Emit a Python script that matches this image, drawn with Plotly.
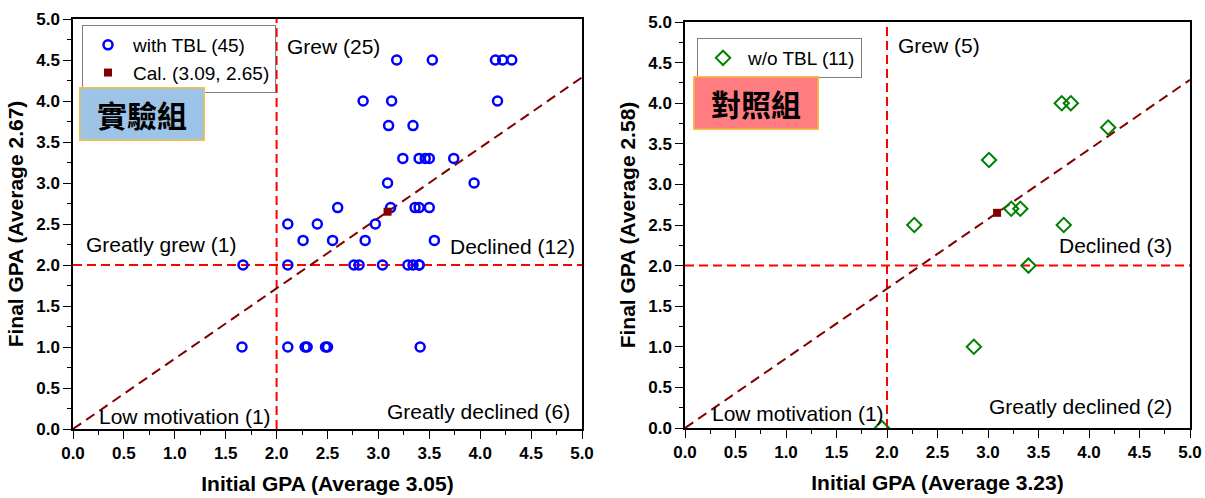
import plotly.graph_objects as go

# ---------------- data ----------------
exp_initial = [3.18, 3.53, 4.15, 4.22, 4.31,
               2.85, 3.13, 4.17,
               3.10, 3.34,
               3.24, 3.40, 3.46, 3.50, 3.74,
               3.09, 3.94,
               2.60, 3.12, 3.36, 3.40, 3.50,
               2.11, 2.40, 2.97,
               2.26, 2.55, 2.87, 3.55,
               1.67, 2.11, 2.76, 2.81, 3.04, 3.29, 3.34, 3.40, 3.40,
               1.66, 2.11, 2.28, 2.30, 2.48, 2.50, 3.41]
exp_final = [4.5, 4.5, 4.5, 4.5, 4.5,
             4.0, 4.0, 4.0,
             3.7, 3.7,
             3.3, 3.3, 3.3, 3.3, 3.3,
             3.0, 3.0,
             2.7, 2.7, 2.7, 2.7, 2.7,
             2.5, 2.5, 2.5,
             2.3, 2.3, 2.3, 2.3,
             2.0, 2.0, 2.0, 2.0, 2.0, 2.0, 2.0, 2.0, 2.0,
             1.0, 1.0, 1.0, 1.0, 1.0, 1.0, 1.0]

ctl_initial = [2.27, 3.01, 3.23, 3.32, 3.73, 3.82, 4.19, 3.75, 3.40, 2.86, 1.95]
ctl_final = [2.5, 3.3, 2.7, 2.7, 4.0, 4.0, 3.7, 2.5, 2.0, 1.0, 0.0]

cal_point = (3.09, 2.65)
threshold = 2.0
axis_range = [0, 5]

exp_label = "with TBL (45)"
cal_label = "Cal. (3.09, 2.65)"
ctl_label = "w/o TBL (11)"

left_quadrants = ["Grew (25)", "Greatly grew (1)", "Declined (12)",
                  "Low motivation (1)", "Greatly declined (6)"]
right_quadrants = ["Grew (5)", "Declined (3)", "Low motivation (1)",
                   "Greatly declined (2)"]

# ---------------- layout helpers ----------------
W, H = 1205, 498
FONT = "Liberation Sans, Arial, sans-serif"


def px(x):
    return x / W


def py(y):
    return 1 - y / H


slope = cal_point[1] / cal_point[0]
diag_x = [axis_range[0], axis_range[1]]
diag_y = [v * slope for v in diag_x]

fig = go.Figure()


def add_panel(xa, ya, xs, ys, marker, name, legend, cal_legend):
    fig.add_trace(go.Scatter(x=[threshold, threshold], y=axis_range, mode="lines",
                             line=dict(color="#FF0000", width=2, dash="9px,5px"),
                             xaxis=xa, yaxis=ya, showlegend=False, hoverinfo="skip"))
    fig.add_trace(go.Scatter(x=axis_range, y=[threshold, threshold], mode="lines",
                             line=dict(color="#FF0000", width=2, dash="9px,5px"),
                             xaxis=xa, yaxis=ya, showlegend=False, hoverinfo="skip"))
    fig.add_trace(go.Scatter(x=diag_x, y=diag_y, mode="lines",
                             line=dict(color="#800000", width=2, dash="10px,6px"),
                             xaxis=xa, yaxis=ya, showlegend=False, hoverinfo="skip"))
    fig.add_trace(go.Scatter(x=xs, y=ys, mode="markers", name=name, marker=marker,
                             xaxis=xa, yaxis=ya, legend=legend))
    fig.add_trace(go.Scatter(x=[cal_point[0]], y=[cal_point[1]], mode="markers",
                             name=cal_label,
                             marker=dict(symbol="square", size=8, color="#800000"),
                             xaxis=xa, yaxis=ya, legend=legend, showlegend=cal_legend))


add_panel("x", "y", exp_initial, exp_final,
          dict(symbol="circle-open", size=9, color="#0000FF", line=dict(width=2.5)),
          exp_label, "legend", True)
add_panel("x2", "y2", ctl_initial, ctl_final,
          dict(symbol="diamond-open", size=11, color="#008000", line=dict(width=2)),
          ctl_label, "legend2", False)

tickfont = dict(family=FONT, size=17, color="black", weight="bold")
titlefont = dict(family=FONT, size=21, color="black", weight="bold")


def main_axis(domain, anchor, title, standoff):
    return dict(domain=domain, anchor=anchor, range=axis_range, dtick=0.5, tick0=0,
                tickformat=".1f", ticks="outside", ticklen=8, tickwidth=1.3,
                tickcolor="black", showline=True, linecolor="black", linewidth=1.5,
                mirror=True, showgrid=False, zeroline=False, tickfont=tickfont,
                automargin=False,
                title=dict(text=title, font=titlefont, standoff=standoff),
                minor=dict(dtick=0.25, ticks="outside", ticklen=4, tickwidth=1.3,
                           tickcolor="black", showgrid=False))


def mirror_axis(overlay, anchor, side):
    return dict(overlaying=overlay, anchor=anchor, side=side, range=axis_range,
                dtick=0.5, tick0=0, ticks="inside", ticklen=8, tickwidth=1.3,
                tickcolor="black", showticklabels=False, showline=False,
                showgrid=False, zeroline=False, automargin=False,
                minor=dict(dtick=0.25, ticks="inside", ticklen=4, tickwidth=1.3,
                           tickcolor="black", showgrid=False))


fig.update_layout(
    width=W, height=H,
    margin=dict(l=0, r=0, t=0, b=0, autoexpand=False),
    paper_bgcolor="white", plot_bgcolor="white",
    xaxis=main_axis([px(73), px(582)], "y", "Initial GPA (Average 3.05)", 14),
    yaxis=main_axis([py(429), py(19)], "x", "Final GPA (Average 2.67)", 7),
    xaxis2=main_axis([px(685), px(1190)], "y2", "Initial GPA (Average 3.23)", 14),
    yaxis2=main_axis([py(428), py(22)], "x2", "Final GPA (Average 2.58)", 7),
    xaxis3=mirror_axis("x", "y", "top"),
    yaxis3=mirror_axis("y", "x", "right"),
    xaxis4=mirror_axis("x2", "y2", "top"),
    yaxis4=mirror_axis("y2", "x2", "right"),
    legend=dict(x=px(82), y=py(25), xanchor="left", yanchor="top",
                bordercolor="#7f7f7f", borderwidth=1, bgcolor="white",
                font=dict(family=FONT, size=19, color="black"),
                tracegroupgap=0, itemwidth=40),
    legend2=dict(x=px(697), y=py(38), xanchor="left", yanchor="top",
                 bordercolor="#7f7f7f", borderwidth=1, bgcolor="white",
                 font=dict(family=FONT, size=19, color="black"),
                 itemwidth=40),
    showlegend=True,
)

for text, cx, cy, color in [("實驗組", 141.7, 113.8, "#9DC3E6"),
                            ("對照組", 756, 103, "#FF7C80")]:
    fig.add_annotation(text=text, xref="paper", yref="paper", x=px(cx), y=py(cy),
                       xanchor="center", yanchor="middle", showarrow=False,
                       width=121, height=49, bgcolor=color, bordercolor="#F5C242",
                       borderwidth=1.5,
                       font=dict(family="Noto Sans CJK TC", size=30, color="black",
                                 weight="bold"))

quad_pos_left = [(285, 47, "left"), (84, 244, "left"), (577, 247, "right"),
                 (97, 416, "left"), (572, 411, "right")]
quad_pos_right = [(896, 45, "left"), (1174, 246, "right"), (710, 413, "left"),
                  (1174, 406, "right")]
for texts, poss in [(left_quadrants, quad_pos_left), (right_quadrants, quad_pos_right)]:
    for t, (x, y, anc) in zip(texts, poss):
        fig.add_annotation(text=t, xref="paper", yref="paper", x=px(x), y=py(y),
                           xanchor=anc, yanchor="middle", showarrow=False,
                           font=dict(family=FONT, size=21, color="black"))

fig.write_html("out.html", config={"displayModeBar": False},
               post_script="document.body.style.margin='0';document.body.style.padding='0';")
